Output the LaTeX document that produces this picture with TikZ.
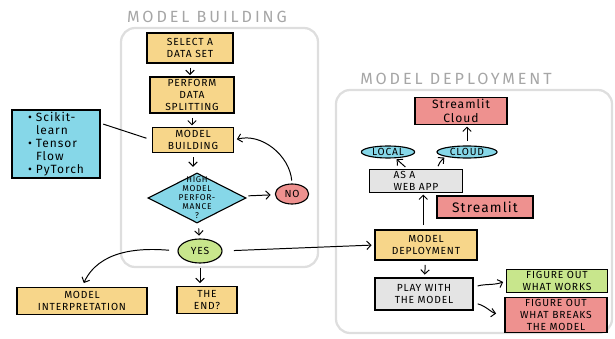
\documentclass[tikz,border=0pt]{standalone}
\usepackage{fontspec}
\setmainfont{Fira Sans}
\newfontfamily\titlefont{Fira Sans}[LetterSpace=18]
\newfontfamily\handfont{Fira Sans}[LetterSpace=8]
\usetikzlibrary{shapes.geometric,arrows.meta}

\definecolor{boxyellow}{HTML}{F7D68A}
\definecolor{boxcyan}{HTML}{86D7E8}
\definecolor{boxred}{HTML}{EE918F}
\definecolor{boxgreen}{HTML}{C8E68C}
\definecolor{boxgray}{HTML}{E4E4E4}
\definecolor{panelgray}{HTML}{DEDEDE}
\definecolor{titlegray}{HTML}{A6A6A6}

\begin{document}
\begin{tikzpicture}[x=0.025cm,y=-0.025cm,>={Straight Barb[length=3pt,width=6pt]},
    panel/.style={draw=panelgray,line width=1.6pt,rounded corners=10pt},
    title/.style={font=\titlefont\fontsize{11.5}{12}\selectfont,text=titlegray},
    card/.style={rectangle,draw=black,line width=0.8pt,align=center,inner sep=1pt,
      font=\handfont\fontsize{7.3}{8.6}\selectfont},
    ybox/.style={card,fill=boxyellow},
    cbox/.style={card,fill=boxcyan},
    rbox/.style={card,fill=boxred},
    gbox/.style={card,fill=boxgreen},
    wbox/.style={card,fill=boxgray},
    pill/.style={ellipse,draw=black,line width=0.8pt,inner sep=0pt,
      font=\handfont\fontsize{7.3}{8}\selectfont},
    flow/.style={->,line width=0.7pt,shorten <=2pt,shorten >=1pt}]
   \useasboundingbox (0,0) rectangle (615,339);
   \draw[panel] (121,28) rectangle (318,267);
   \draw[panel] (336,90) rectangle (612,333);
   \node[title] (tbuild) at (207,17) {MODEL BUILDING};
   \node[title] (tdeploy) at (456,79) {MODEL DEPLOYMENT};
   \begin{scope}
    \node[ybox,minimum width=2.15cm,minimum height=0.75cm] (sel) at (190,48) {SELECT A\\DATA SET};
    \node[ybox,minimum width=2.1cm,minimum height=0.9cm] (split) at (192,95) {PERFORM\\DATA\\SPLITTING};
    \node[ybox,minimum width=2.03cm,minimum height=0.63cm] (mbuild) at (193,140) {MODEL\\BUILDING};
    \node[diamond,draw=black,line width=0.8pt,fill=boxcyan,inner sep=0pt,
      minimum width=2.45cm,minimum height=1.25cm] (perf) at (197,198) {};
    \node[align=center,inner sep=0pt,font=\handfont\fontsize{6}{6.4}\selectfont] (perftxt) at (perf)
      {HIGH\\MODEL\\PERFOR-\\MANCE\\?};
    \node[pill,fill=boxred,minimum width=0.83cm,minimum height=0.5cm] (no) at (292,194) {NO};
    \node[pill,fill=boxgreen,minimum width=1.1cm,minimum height=0.6cm] (yes) at (200,251) {YES};
    \node[ybox,minimum width=3.25cm,minimum height=0.68cm] (interp) at (82,301) {MODEL\\INTERPRETATION};
    \node[ybox,minimum width=1.5cm,minimum height=0.68cm] (theend) at (207,300) {THE\\END?};
    \node[cbox,align=left,minimum width=2.2cm,minimum height=1.7cm,
      font=\handfont\fontsize{8.5}{9.3}\selectfont] (tools) at (56,144)
      {\textbullet\ Scikit-\\\hphantom{\textbullet\ }learn\\\textbullet\ Tensor\\\hphantom{\textbullet\ }Flow\\\textbullet\ PyTorch};
   \end{scope}
   \begin{scope}
    \node[rbox,minimum width=2.3cm,minimum height=0.68cm,
      font=\handfont\fontsize{8.6}{9.6}\selectfont] (stcloud) at (461,111) {Streamlit\\Cloud};
    \node[pill,fill=boxcyan,minimum width=1.33cm,minimum height=0.3cm] (local) at (388,152) {LOCAL};
    \node[pill,fill=boxcyan,minimum width=1.5cm,minimum height=0.3cm] (cloud) at (467,152) {CLOUD};
    \node[wbox,align=left,minimum width=2.33cm,minimum height=0.58cm] (webapp) at (416,181) {AS A\\WEB APP};
    \node[rbox,minimum width=2.4cm,minimum height=0.55cm,
      font=\handfont\fontsize{9.8}{11}\selectfont] (streamlit) at (485,207) {Streamlit};
    \node[ybox,minimum width=2.55cm,minimum height=0.75cm] (mdeploy) at (426,245) {MODEL\\DEPLOYMENT};
    \node[wbox,minimum width=2.45cm,minimum height=0.8cm] (play) at (424,294) {PLAY WITH\\THE MODEL};
    \node[gbox,minimum width=2.53cm,minimum height=0.45cm] (works) at (557,281) {FIGURE OUT\\WHAT WORKS};
    \node[rbox,minimum width=2.55cm,minimum height=0.65cm] (breaks) at (556,315) {FIGURE OUT\\WHAT BREAKS\\THE MODEL};
   \end{scope}
   \begin{scope}[flow]
    \draw[shorten <=3pt] (sel) -- (sel |- split.north);
    \draw[shorten <=3pt] (split) -- (split |- mbuild.north);
    \draw[shorten <=3pt,shorten >=4pt] (mbuild) -- (mbuild |- perf.north);
    \draw[shorten <=4pt,shorten >=3pt] (perf) -- (no);
    \draw[shorten <=2pt,shorten >=2pt] (no.north) to[out=95,in=15] (mbuild.east);
    \draw[shorten <=4pt,shorten >=2pt] (perf) -- (yes);
    \draw[shorten <=8pt,shorten >=2pt] (yes.east) -- (mdeploy.west);
    \draw[shorten <=6pt,shorten >=3pt] (yes.west) to[out=175,in=65] (interp.north);
    \draw[shorten <=3pt,shorten >=2pt] (yes) -- (yes |- theend.north);
    \draw[-,shorten <=2pt,shorten >=4pt] (tools.25) -- (mbuild.west);
    \draw[shorten <=3pt,shorten >=1pt] (cloud) -- (cloud |- stcloud.south);
    \draw[shorten <=2pt,shorten >=1pt] (webapp.125) -- (local.-40);
    \draw[shorten <=2pt,shorten >=1pt] (webapp.30) to[bend left=15] (cloud.south west);
    \draw[shorten <=3pt] (mdeploy.100) -- (mdeploy.100 |- webapp.south);
    \draw[shorten <=3pt,shorten >=2pt] (mdeploy) -- (play);
    \draw[shorten <=3pt,shorten >=2pt] (play.8) to[out=15,in=200] (works.west);
    \draw[shorten <=3pt,shorten >=6pt] (play.-10) to[out=-15,in=170] (breaks.west);
   \end{scope}
\end{tikzpicture}
\end{document}
